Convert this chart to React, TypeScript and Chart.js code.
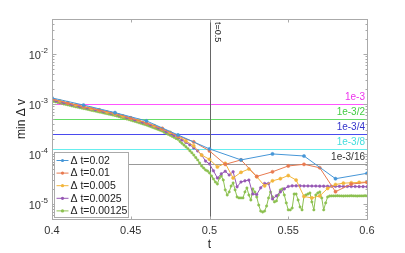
import React, { useEffect, useRef } from "react";
import { Chart, registerables } from "chart.js";
Chart.register(...registerables);

// ---------- data ----------
const seriesLabels = ["Δ t=0.02", "Δ t=0.01", "Δ t=0.005", "Δ t=0.0025", "Δ t=0.00125"];
const seriesSteps = [0.02, 0.01, 0.005, 0.0025, 0.00125];
const seriesColors = ["rgb(70,150,215)", "rgb(232,122,80)", "rgb(242,182,60)", "rgb(150,88,180)", "rgb(140,192,80)"];

const vBlue = [1.32e-3, 9.5e-4, 6.7e-4, 4.57e-4, 2.4e-4, 1.26e-4, 7.6e-5, 1.0e-4, 9.1e-5, 3.2e-5, 4.1e-5];
const vOrange = [1.26e-3, 1.05e-3, 8.9e-4, 7.6e-4, 6.5e-4, 5.25e-4, 4.17e-4, 3.24e-4, 2.29e-4, 1.74e-4, 1.15e-4,
  6.2e-5, 7.6e-5, 3.55e-5, 4.4e-5, 5.75e-5, 6.2e-5, 5.3e-5, 1.76e-5, 2.5e-5, 2.7e-5];
const vYellow = [1.23e-3, 1.15e-3, 1.05e-3, 9.6e-4, 8.8e-4, 8.1e-4, 7.5e-4, 6.9e-4, 6.3e-4, 5.75e-4,
  5.2e-4, 4.7e-4, 4.2e-4, 3.65e-4, 3.16e-4, 2.7e-4, 2.24e-4, 1.82e-4, 1.45e-4, 9.5e-5,
  7.8e-5, 5.5e-5, 6.5e-5, 3.3e-5, 4.3e-5, 5.0e-5, 3.5e-5, 2.3e-5, 2.9e-5, 3.2e-5,
  3.7e-5, 3.0e-5, 1.41e-5, 1.32e-5, 1.45e-5, 2.04e-5, 2.45e-5, 2.6e-5, 2.65e-5, 2.7e-5, 2.75e-5];
const vPurple = [1.2e-3, 1.15e-3, 1.1e-3, 1.06e-3, 1.01e-3, 9.7e-4, 9.3e-4, 8.9e-4, 8.6e-4, 8.3e-4,
  7.9e-4, 7.65e-4, 7.35e-4, 7.1e-4, 6.8e-4, 6.55e-4, 6.3e-4, 6.0e-4, 5.7e-4, 5.35e-4,
  5.1e-4, 4.8e-4, 4.55e-4, 4.3e-4, 4.07e-4, 3.8e-4, 3.53e-4, 3.3e-4, 3.07e-4, 2.8e-4,
  2.56e-4, 2.35e-4, 2.14e-4, 1.9e-4, 1.7e-4, 1.52e-4, 1.32e-4, 1.15e-4, 9.5e-5, 7.2e-5,
  6.3e-5, 4.6e-5, 3.3e-5, 4.0e-5, 4.5e-5, 3.8e-5, 4.4e-5, 2.2e-5, 2.75e-5, 2.9e-5,
  3.0e-5, 1.58e-5, 1.55e-5, 2.1e-5, 2.57e-5, 2.57e-5, 1.26e-5, 1.45e-5, 1.74e-5, 2.0e-5,
  2.24e-5, 2.3e-5, 2.3e-5, 2.3e-5, 2.29e-5, 2.29e-5, 2.28e-5, 2.28e-5, 2.27e-5, 2.27e-5,
  2.26e-5, 2.26e-5, 2.25e-5, 2.25e-5, 2.24e-5, 2.24e-5, 2.23e-5, 2.23e-5, 2.22e-5, 2.22e-5, 2.21e-5];
const vGreen = [1.15e-3, 1.12e-3, 1.1e-3, 1.07e-3, 1.05e-3, 1.03e-3, 1.0e-3, 9.8e-4, 9.6e-4, 9.4e-4,
  9.16e-4, 9.0e-4, 8.8e-4, 8.63e-4, 8.45e-4, 8.28e-4, 8.13e-4, 7.98e-4, 7.8e-4, 7.66e-4,
  7.48e-4, 7.35e-4, 7.2e-4, 7.05e-4, 6.92e-4, 6.8e-4, 6.64e-4, 6.52e-4, 6.4e-4, 6.25e-4,
  6.12e-4, 6.0e-4, 5.89e-4, 5.73e-4, 5.57e-4, 5.42e-4, 5.27e-4, 5.13e-4, 5.01e-4, 4.88e-4,
  4.74e-4, 4.62e-4, 4.49e-4, 4.37e-4, 4.25e-4, 4.13e-4, 4.02e-4, 3.9e-4, 3.8e-4, 3.66e-4,
  3.55e-4, 3.42e-4, 3.3e-4, 3.19e-4, 3.08e-4, 2.98e-4, 2.88e-4, 2.72e-4, 2.6e-4, 2.48e-4,
  2.37e-4, 2.26e-4, 2.15e-4, 2.04e-4, 1.96e-4, 1.78e-4, 1.64e-4, 1.51e-4, 1.39e-4, 1.28e-4,
  1.16e-4, 1.06e-4, 9.55e-5, 8.5e-5, 7.6e-5, 6.6e-5, 5.75e-5, 5.25e-5, 4.79e-5, 4.57e-5,
  4.17e-5, 3.63e-5, 3.16e-5, 2.75e-5, 2.51e-5, 3.31e-5, 3.63e-5, 3.02e-5, 1.91e-5, 1.51e-5,
  1.74e-5, 2.29e-5, 2.63e-5, 1.91e-5, 1.38e-5, 1.32e-5, 1.32e-5, 1.32e-5, 1.74e-5, 2.09e-5,
  1.51e-5, 1.2e-5, 2.0e-5, 1.74e-5, 1.38e-5, 9.5e-6, 7.2e-6, 6.9e-6, 7.2e-6, 9.1e-6,
  1.32e-5, 1.74e-5, 1.38e-5, 1.1e-5, 1.15e-5, 1.51e-5, 1.91e-5, 2.0e-5, 1.51e-5, 1.05e-5,
  7.6e-6, 7.6e-6, 8.3e-6, 1.58e-5, 1.58e-5, 1.2e-5, 8.7e-6, 7.6e-6, 1.45e-5, 1.51e-5,
  1.58e-5, 1.66e-5, 1.1e-5, 7.6e-6, 1.51e-5, 1.66e-5, 1.74e-5, 1.32e-5, 7.6e-6, 1.05e-5,
  1.38e-5, 1.44e-5, 1.45e-5, 1.45e-5, 1.45e-5, 1.46e-5, 1.45e-5, 1.45e-5, 1.44e-5, 1.45e-5,
  1.45e-5, 1.45e-5, 1.46e-5, 1.45e-5, 1.45e-5, 1.44e-5, 1.45e-5, 1.45e-5, 1.45e-5, 1.46e-5, 1.45e-5];
const seriesValues = [vBlue, vOrange, vYellow, vPurple, vGreen];
const seriesPointRadius = [1.6, 1.6, 1.6, 1.3, 1.2];
const tStart = 0.4;

const refValues = [1e-3, 5e-4, 2.5e-4, 1.25e-4, 6.25e-5];
const refLabels = ["1e-3", "1e-3/2", "1e-3/4", "1e-3/8", "1e-3/16"];
const refLineColors = ["#ff55ff", "#66dd66", "#4a4aee", "#66eeee", "#999999"];
const refTextColors = ["#ee33ee", "#44cc44", "#3333cc", "#44dddd", "#333333"];
const vLineT = 0.5;
const vLineLabel = "t=0.5";

const xTicks = [0.4, 0.45, 0.5, 0.55, 0.6];
const xTickLabels = ["0.4", "0.45", "0.5", "0.55", "0.6"];
const yDecades = [-5, -4, -3, -2];
const X_MIN = 0.4, X_MAX = 0.6, Y_MIN = 5e-6, Y_MAX = 5e-2;

const FONT = "'Liberation Sans', Arial, Helvetica, sans-serif";

export default function App() {
  const ref = useRef<HTMLCanvasElement | null>(null);
  useEffect(() => {
    document.body.style.margin = "0";
    const canvas = ref.current!;
    const datasets = seriesValues.map((vals, i) => ({
      label: seriesLabels[i],
      data: vals.map((v, k) => ({ x: +(tStart + k * seriesSteps[i]).toFixed(6), y: v })),
      borderColor: seriesColors[i],
      backgroundColor: seriesColors[i],
      borderWidth: 1,
      pointRadius: seriesPointRadius[i],
      pointBorderWidth: 0.5,
      showLine: true,
    }));

    const deco = {
      id: "deco",
      beforeDatasetsDraw(chart: any) {
        const { ctx, chartArea: a, scales } = chart;
        ctx.save();
        ctx.beginPath();
        ctx.rect(a.left, a.top, a.right - a.left, a.bottom - a.top);
        ctx.clip();
        ctx.lineWidth = 1;
        refValues.forEach((v, i) => {
          const y = Math.round(scales.y.getPixelForValue(v)) + 0.5;
          ctx.strokeStyle = refLineColors[i];
          ctx.beginPath();
          ctx.moveTo(a.left, y);
          ctx.lineTo(a.right, y);
          ctx.stroke();
        });
        const vx = Math.round(scales.x.getPixelForValue(vLineT)) + 0.5;
        ctx.strokeStyle = "#666666";
        ctx.beginPath();
        ctx.moveTo(vx, a.top);
        ctx.lineTo(vx, a.bottom);
        ctx.stroke();
        ctx.restore();
      },
      afterDraw(chart: any) {
        const { ctx, chartArea: a, scales } = chart;
        ctx.save();
        // ref labels
        ctx.font = `10px ${FONT}`;
        ctx.textAlign = "right";
        ctx.textBaseline = "bottom";
        refValues.forEach((v, i) => {
          const y = scales.y.getPixelForValue(v);
          ctx.fillStyle = refTextColors[i];
          ctx.fillText(refLabels[i], a.right - 2, y - 2);
        });
        // vertical line label
        const vx = scales.x.getPixelForValue(vLineT);
        ctx.save();
        ctx.translate(vx + 3, a.top + 3);
        ctx.rotate(Math.PI / 2);
        ctx.fillStyle = "#222";
        ctx.font = `9px ${FONT}`;
        ctx.textAlign = "left";
        ctx.textBaseline = "bottom";
        ctx.fillText(vLineLabel, 0, 0);
        ctx.restore();

        // box
        ctx.strokeStyle = "#aaaaaa";
        ctx.lineWidth = 1;
        const L = Math.round(a.left) + 0.5, R = Math.round(a.right) + 0.5;
        const T = Math.round(a.top) + 0.5, B = Math.round(a.bottom) + 0.5;
        ctx.strokeRect(L, T, R - L, B - T);
        // x ticks
        ctx.beginPath();
        xTicks.forEach((t) => {
          const x = Math.round(scales.x.getPixelForValue(t)) + 0.5;
          ctx.moveTo(x, B); ctx.lineTo(x, B - 3);
          ctx.moveTo(x, T); ctx.lineTo(x, T + 3);
        });
        // y ticks
        for (let e = -6; e <= -1; e++) {
          for (let m = 1; m <= 9; m++) {
            const v = m * Math.pow(10, e);
            if (v < Y_MIN || v > Y_MAX) continue;
            const y = Math.round(scales.y.getPixelForValue(v)) + 0.5;
            const len = m === 1 ? 4 : 2;
            ctx.moveTo(L, y); ctx.lineTo(L + len, y);
            ctx.moveTo(R, y); ctx.lineTo(R - len, y);
          }
        }
        ctx.stroke();

        // x labels
        ctx.fillStyle = "#333";
        ctx.font = `11px ${FONT}`;
        ctx.textAlign = "center";
        ctx.textBaseline = "middle";
        xTicks.forEach((t, i) => {
          ctx.fillText(xTickLabels[i], scales.x.getPixelForValue(t), a.bottom + 12);
        });
        // y labels 10^e
        yDecades.forEach((e) => {
          const y = scales.y.getPixelForValue(Math.pow(10, e));
          const sup = String(e);
          ctx.font = `8px ${FONT}`;
          const sw = ctx.measureText(sup).width;
          ctx.textAlign = "left";
          ctx.textBaseline = "alphabetic";
          ctx.fillText(sup, a.left - 4 - sw, y - 1);
          ctx.font = `11px ${FONT}`;
          ctx.textAlign = "right";
          ctx.fillText("10", a.left - 4 - sw, y + 5);
        });
        // axis titles
        ctx.font = `12px ${FONT}`;
        ctx.textAlign = "center";
        ctx.textBaseline = "middle";
        ctx.fillStyle = "#222";
        ctx.fillText("t", (a.left + a.right) / 2, a.bottom + 26);
        ctx.save();
        ctx.translate(22, (a.top + a.bottom) / 2);
        ctx.rotate(-Math.PI / 2);
        ctx.fillText("min Δ v", 0, 0);
        ctx.restore();

        // legend
        const lx = 54.5, ly = 152.5, lw = 74, lh = 65;
        ctx.fillStyle = "#ffffff";
        ctx.fillRect(lx, ly, lw, lh);
        ctx.strokeStyle = "#aaaaaa";
        ctx.strokeRect(lx, ly, lw, lh);
        ctx.font = `10.5px ${FONT}`;
        ctx.textAlign = "left";
        ctx.textBaseline = "middle";
        seriesLabels.forEach((lab, i) => {
          const y = ly + 8 + i * 12.6;
          ctx.strokeStyle = seriesColors[i];
          ctx.lineWidth = 1;
          ctx.beginPath();
          ctx.moveTo(lx + 2, y); ctx.lineTo(lx + 14, y);
          ctx.stroke();
          ctx.fillStyle = seriesColors[i];
          ctx.beginPath();
          ctx.arc(lx + 8, y, 1.6, 0, Math.PI * 2);
          ctx.fill();
          ctx.fillStyle = "#222";
          ctx.fillText(lab, lx + 16, y + 0.5);
        });
        ctx.restore();
      },
    };

    const chart = new Chart(canvas, {
      type: "scatter",
      data: { datasets } as any,
      options: {
        animation: false,
        responsive: false,
        maintainAspectRatio: false,
        layout: { padding: { left: 52, right: 38, top: 19, bottom: 34 } },
        plugins: { legend: { display: false }, tooltip: { enabled: false } },
        scales: {
          x: { type: "linear", min: X_MIN, max: X_MAX, display: false },
          y: { type: "logarithmic", min: Y_MIN, max: Y_MAX, display: false },
        },
      } as any,
      plugins: [deco],
    });
    return () => chart.destroy();
  }, []);
  return (
    <div style={{ width: 405, height: 253 }}>
      <canvas ref={ref} width={405} height={253} style={{ display: "block" }} />
    </div>
  );
}
